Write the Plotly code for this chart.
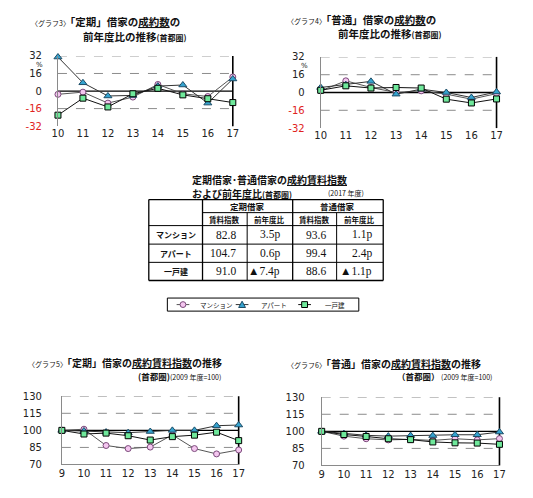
import plotly.graph_objects as go

# page body has an 8px margin, so the figure is 16px smaller than the window
OFF = 8
FW = 533 - 2 * OFF
FH = 498 - 2 * OFF

# chart 3 / 4 : 成約数の前年度比 (%)
years_count = [10, 11, 12, 13, 14, 15, 16, 17]
teiki_count_mansion = [-3, -1, -11, -5.5, 6, -2.5, -5, 12.8]
teiki_count_apart = [31, 7.5, -4.5, -4, 4.5, 5.5, -11, 11]
teiki_count_house = [-22, -6.5, -14.5, -2.5, 2.5, -3.5, -7, -10.5]

futsu_count_mansion = [1.5, 10.5, 4.5, 0, 1.5, -1.5, -6, -1]
futsu_count_apart = [4.5, 7, 10, -1.5, 3, 0, -4.5, 0.5]
futsu_count_house = [2, 6, 4, 4.5, 4, -6, -9.4, -5.8]

# chart 5 / 6 : 成約賃料指数 (2009年度=100)
years_index = [9, 10, 11, 12, 13, 14, 15, 16, 17]
teiki_index_mansion = [100, 101, 86.7, 84, 85.3, 96, 84, 79.3, 82.8]
teiki_index_apart = [100, 99.5, 98.5, 98, 99, 100, 100, 104.1, 104.7]
teiki_index_house = [100, 96.8, 97.6, 95.3, 91.5, 94.5, 95.8, 98.4, 91.0]

futsu_index_mansion = [100, 95.8, 93.5, 92.5, 93, 92, 93.5, 92.5, 93.6]
futsu_index_apart = [100, 98, 96.5, 95.8, 96.3, 96.3, 97, 97.0, 99.4]
futsu_index_house = [100, 97.2, 95.5, 93.5, 92.7, 90.7, 89.9, 89.7, 88.6]

types = ["マンション", "アパート", "一戸建"]

count_ticks = [32, 16, 0, -16, -32]
count_grid = [32, 16, -16]
index_ticks = [130, 115, 100, 85, 70]
index_grid = [130, 115, 85]

JP = "Noto Sans CJK JP"
NUM = "DejaVu Sans"
SERIF = "Liberation Serif"


def px(x):
    return (x - OFF) / FW


def py(y):
    return 1 - (y - OFF) / FH


fills = ["#f4c6ef", "#35a3cf", "#6fe89b"]
edges = ["#7b4a7b", "#1d4c66", "#000000"]
symbols = ["circle", "triangle-up", "square"]
sizes = [6, 7, 6]
line_colors = ["#555555", "#333333", "#111111"]

fig = go.Figure()

charts = [
    ("x", "y", years_count, [teiki_count_mansion, teiki_count_apart, teiki_count_house]),
    ("x2", "y2", years_count, [futsu_count_mansion, futsu_count_apart, futsu_count_house]),
    ("x3", "y3", years_index, [teiki_index_mansion, teiki_index_apart, teiki_index_house]),
    ("x4", "y4", years_index, [futsu_index_mansion, futsu_index_apart, futsu_index_house]),
]

for ci, (xa, ya, xs, series) in enumerate(charts):
    for i, ys in enumerate(series):
        fig.add_trace(go.Scatter(
            x=xs, y=ys, xaxis=xa, yaxis=ya, mode="lines+markers",
            name=types[i], showlegend=False, cliponaxis=False,
            line=dict(color=line_colors[i], width=1),
            marker=dict(symbol=symbols[i], size=sizes[i], color=fills[i],
                        line=dict(color=edges[i], width=1)),
        ))


def tick_text(vals):
    out = []
    for v in vals:
        if v < 0:
            out.append("<span style='color:#e0231e'>%d</span>" % v)
        else:
            out.append(str(v))
    return out


def xaxis(dom, rng, vals, anchor, line):
    return dict(domain=dom, range=rng, tickvals=vals, anchor=anchor,
                showgrid=False, zeroline=False, showline=line,
                linecolor="#8a8a8a", linewidth=1, ticks="",
                tickfont=dict(family=NUM, size=10, color="#222"),
                fixedrange=True)


def yaxis(dom, rng, vals, anchor, standoff):
    return dict(domain=dom, range=rng, tickvals=vals, ticktext=tick_text(vals),
                anchor=anchor, showgrid=False, zeroline=False, showline=True,
                linecolor="#8a8a8a", linewidth=1, ticks="",
                ticklabelstandoff=standoff,
                tickfont=dict(family=NUM, size=10, color="#222"),
                fixedrange=True)


fig.update_layout(
    xaxis=xaxis([px(53), px(232)], [10, 17], years_count, "y", False),
    yaxis=yaxis([py(123), py(51)], [-32, 32], count_ticks, "x", 13),
    xaxis2=xaxis([px(322), px(502)], [10, 17], years_count, "y2", False),
    yaxis2=yaxis([py(125), py(52)], [-32, 32], count_ticks, "x2", 13),
    xaxis3=xaxis([px(57), px(238)], [9, 17], years_index, "y3", True),
    yaxis3=yaxis([py(470), py(400)], [70, 130], index_ticks, "x3", 17),
    xaxis4=xaxis([px(323), px(505)], [9, 17], years_index, "y4", True),
    yaxis4=yaxis([py(471), py(401)], [70, 130], index_ticks, "x4", 14),
)

shapes = []
for xa, ya, grid, base in [("x", "y", count_grid, 0), ("x2", "y2", count_grid, 0),
                           ("x3", "y3", index_grid, 100), ("x4", "y4", index_grid, 100)]:
    for g in grid:
        shapes.append(dict(type="line", xref=xa + " domain", yref=ya, x0=0, x1=1, y0=g, y1=g,
                           line=dict(color="#8c8c8c", width=1, dash="dash"), layer="below"))
    shapes.append(dict(type="line", xref=xa + " domain", yref=ya, x0=0, x1=1, y0=base, y1=base,
                       line=dict(color="#000000", width=1.3), layer="below"))
    shapes.append(dict(type="line", xref=xa + " domain", yref=ya + " domain", x0=1, x1=1, y0=0, y1=1,
                       line=dict(color="#000000", width=1.6), layer="below"))


def seg(x0, y0, x1, y1, w=1, color="#000"):
    shapes.append(dict(type="line", xref="paper", yref="paper", x0=px(x0), x1=px(x1),
                       y0=py(y0), y1=py(y1), line=dict(color=color, width=w)))


# table grid
t_left, t_c1, t_c2, t_c3, t_c4, t_right = 146, 201, 246.7, 293.3, 338.3, 386
t_rows = [198.3, 211.7, 225, 244, 262.7, 281.3]

for i, yy in enumerate(t_rows):
    if i == 1:
        seg(t_c1, yy, t_right, yy)
    else:
        seg(t_left, yy, t_right, yy, 1.3 if i in (0, 5) else 1)
for xx in [t_left, t_c1, t_c3, t_right]:
    seg(xx, t_rows[0], xx, t_rows[-1], 1.3)
for xx in [t_c2, t_c4]:
    seg(xx, t_rows[1], xx, t_rows[-1])

ann = []


def text(x, y, s, size, anchor="left", family=JP, color="#111"):
    ann.append(dict(x=px(x), y=py(y), xref="paper", yref="paper", text=s, showarrow=False,
                    xanchor=anchor, yanchor="middle", font=dict(family=family, size=size, color=color)))


# legend box (drawn by hand so it stays as compact as the original)
lg_y = 306
shapes.append(dict(type="rect", xref="paper", yref="paper", x0=px(165), x1=px(361),
                   y0=py(299.3), y1=py(312.7), line=dict(color="#000", width=1)))
lg_items = [(181, 196), (241.5, 259), (305.5, 324)]
for i, (cx, tx) in enumerate(lg_items):
    seg(cx - 6.5, lg_y, cx + 6.5, lg_y, 1, line_colors[i])
    r = 3
    if symbols[i] == "circle":
        shapes.append(dict(type="circle", xref="paper", yref="paper", x0=px(cx - r), x1=px(cx + r),
                           y0=py(lg_y - r), y1=py(lg_y + r), fillcolor=fills[i],
                           line=dict(color=edges[i], width=1)))
    elif symbols[i] == "square":
        shapes.append(dict(type="rect", xref="paper", yref="paper", x0=px(cx - r), x1=px(cx + r),
                           y0=py(lg_y - r), y1=py(lg_y + r), fillcolor=fills[i],
                           line=dict(color=edges[i], width=1)))
    else:
        path = "M %f,%f L %f,%f L %f,%f Z" % (px(cx), py(lg_y - 3.5), px(cx - 3.5), py(lg_y + 3),
                                              px(cx + 3.5), py(lg_y + 3))
        shapes.append(dict(type="path", xref="paper", yref="paper", path=path, fillcolor=fills[i],
                           line=dict(color=edges[i], width=1)))
    text(tx, lg_y, types[i], 6.5, family=JP)

small = "<span style='font-size:7px'>%s</span>"

# chart titles
text(23, 16, small % "〈グラフ3〉" + "<b>「定期」借家の<u>成約数</u>の</b>", 10.5)
text(77, 31, "<b>前年度比の推移</b>" + "<span style='font-size:8px'><b>(首都圏)</b></span>", 10.5)
text(285, 14, small % "〈グラフ4〉" + "<b>「普通」借家の<u>成約数</u>の</b>", 10.5)
text(338, 28, "<b>前年度比の推移</b>" + "<span style='font-size:8px'><b>(首都圏)</b></span>", 10.5)
text(20, 365, small % "〈グラフ5〉" + "<b>「定期」借家の<u>成約賃料指数</u>の推移</b>", 10)
text(133, 379, "<b>(首都圏)</b>" + small % "(2009 年度=100)", 8.5)
text(285, 366, small % "〈グラフ6〉" + "<b>「普通」借家の<u>成約賃料指数</u>の推移</b>", 10)
text(398, 379, "<b>（首都圏）</b>" + small % " (2009 年度=100)", 8.5)

# % labels
text(40, 60, "%", 7, anchor="right", family=NUM)
text(311, 61.5, "%", 7, anchor="right", family=NUM)

# table title
text(188, 178, "<b>定期借家･普通借家の<u>成約賃料指数</u></b>", 10)
text(188, 192, "<b>および前年度比</b><span style='font-size:8px'><b>(首都圏)</b></span>", 10)
text(327, 192, "(2017 年度)", 7)

# table headers
text((t_c1 + t_c3) / 2, 205, "<b>定期借家</b>", 8.5, anchor="center")
text((t_c3 + t_right) / 2, 205, "<b>普通借家</b>", 8.5, anchor="center")
for a, b, s in [(t_c1, t_c2, "賃料指数"), (t_c2, t_c3, "前年度比"),
                (t_c3, t_c4, "賃料指数"), (t_c4, t_right, "前年度比")]:
    text((a + b) / 2, 218.5, "<b>%s</b>" % s, 7.5, anchor="center")


def yoy(series):
    d = round(series[-1] - series[-2], 1)
    return ("▲%.1fp" % abs(d)) if d < 0 else ("%.1fp" % d)


teiki_last = [teiki_index_mansion, teiki_index_apart, teiki_index_house]
futsu_last = [futsu_index_mansion, futsu_index_apart, futsu_index_house]
for r, name in enumerate(types):
    yc = (t_rows[2 + r] + t_rows[3 + r]) / 2
    text((t_left + t_c1) / 2, yc, "<b>%s</b>" % name, 8, anchor="center")
    text(t_c2 - 9, yc, "%.1f" % teiki_last[r][-1], 11.5, anchor="right", family=SERIF)
    text(t_c3 - 11, yc, yoy(teiki_last[r]), 11.5, anchor="right", family=SERIF)
    text(t_c4 - 9, yc, "%.1f" % futsu_last[r][-1], 11.5, anchor="right", family=SERIF)
    text(t_right - 9, yc, yoy(futsu_last[r]), 11.5, anchor="right", family=SERIF)

fig.update_layout(
    width=FW, height=FH, margin=dict(l=0, r=0, t=0, b=0),
    paper_bgcolor="white", plot_bgcolor="white",
    shapes=shapes, annotations=ann, showlegend=False,
)

fig.write_html("out.html")
